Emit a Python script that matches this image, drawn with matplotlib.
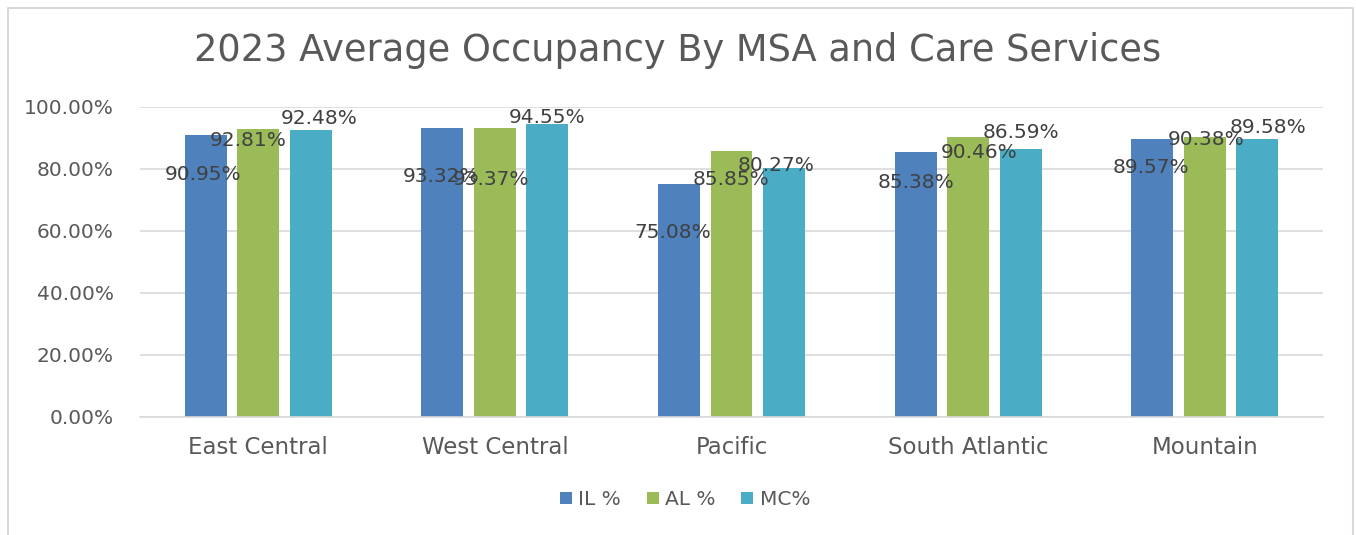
import numpy as np
import matplotlib.pyplot as plt
from matplotlib.lines import Line2D
from matplotlib.ticker import FuncFormatter

plt.rcParams['font.family'] = ['DejaVu Sans']

regions = ['East Central', 'West Central', 'Pacific', 'South Atlantic', 'Mountain']
il = [90.95, 93.32, 75.08, 85.38, 89.57]
al = [92.81, 93.37, 85.85, 90.46, 90.38]
mc = [92.48, 94.55, 80.27, 86.59, 89.58]
series = ['IL %', 'AL %', 'MC%']
colors = ['#4F81BD', '#9BBB59', '#4BACC6']

# label offsets in pixels from top-centre of each bar (dx, dy down)
offsets = [
    [(-3, 39), (-1, 49), (-6, 48), (0, 30), (-1, 28)],
    [(-10, 11), (-4, 52), (0, 29), (11, 16), (1, 3)],
    [(8, -12), (0, -6), (-8, -3), (0, -16), (11, -12)],
]

fig = plt.figure(figsize=(13.56, 5.35), dpi=100)
# chart frame: left, top, right edges (bottom is cut off)
bx0, bx1, by1 = 7.5 / 1356, 1352.5 / 1356, 1 - 7.5 / 535
fig.add_artist(Line2D([bx0, bx0, bx1, bx1], [0, by1, by1, 0], transform=fig.transFigure,
                      color='#D9D9D9', linewidth=1.5))
ax = fig.add_axes([0.1032, 0.2206, 0.8725, 0.5794])

x = np.arange(len(regions))
w = 0.177
step = 0.222
for i, (vals, name, col) in enumerate(zip([il, al, mc], series, colors)):
    pos = x + (i - 1) * step
    ax.bar(pos, vals, width=w, color=col, label=name, zorder=2)
    for p, v, (dx, dy) in zip(pos, vals, offsets[i]):
        ax.annotate(f'{v:.2f}%', (p, v), xytext=(dx, -dy), textcoords='offset pixels',
                    ha='center', va='center', fontsize=14.5, color='#404040', zorder=3)

ax.set_xlim(-0.5, len(regions) - 0.5)
ax.set_ylim(0, 100)
ax.set_yticks(np.arange(0, 101, 20))
ax.yaxis.set_major_formatter(FuncFormatter(lambda v, _: f'{v:.2f}%'))
ax.set_xticks(x)
ax.set_xticklabels(regions)
ax.tick_params(axis='both', length=0, labelsize=14.5, labelcolor='#595959')
ax.tick_params(axis='x', pad=14, labelsize=16.5)
ax.tick_params(axis='y', pad=19)
ax.grid(axis='y', color='#D9D9D9', linewidth=1.2, zorder=0)
for s in ['top', 'right', 'left']:
    ax.spines[s].set_visible(False)
ax.spines['bottom'].set_color('#D9D9D9')
ax.spines['bottom'].set_linewidth(1.2)

fig.text(0.5, 0.905, '2023 Average Occupancy By MSA and Care Services', ha='center', va='center',
         fontsize=26.5, color='#595959')
fig.legend(loc='center', bbox_to_anchor=(0.505, 0.066), ncol=3, frameon=False, fontsize=14.5,
           labelcolor='#595959', handlelength=0.6, handleheight=0.6, handletextpad=0.3,
           columnspacing=1.3)

fig.savefig('out.png', dpi=100)
